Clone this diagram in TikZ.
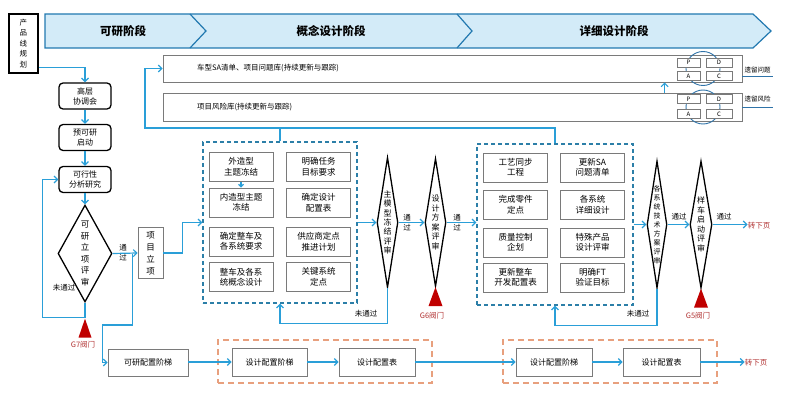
\documentclass[tikz,border=0pt]{standalone}
\usepackage{fontspec}
\setmainfont{Noto Sans CJK SC}
\usetikzlibrary{shapes.geometric,arrows.meta,calc}
\definecolor{flow}{HTML}{2A9FD8}
\definecolor{dashblue}{HTML}{2C7FA8}
\definecolor{bannerfill}{HTML}{D3EBF8}
\definecolor{bannerline}{HTML}{2279B0}
\definecolor{gatered}{HTML}{C00000}
\definecolor{gatetext}{HTML}{B03030}
\definecolor{orangedash}{HTML}{E8A07E}
\definecolor{boxgray}{HTML}{7A7A7A}
\definecolor{pdcablue}{HTML}{2F73A8}
\begin{document}
\begin{tikzpicture}[x=1pt,y=-1pt,
  flowline/.style={draw=flow,line width=1.2pt},
  arr/.style={flowline,-{Straight Barb[length=3.5pt,width=7pt]}},
  phasetext/.style={font=\fontsize{11.5}{13}\selectfont\bfseries},
  planbox/.style={draw=black,line width=1.5pt,fill=white,minimum width=29pt,minimum height=59pt,inner sep=0pt,align=center,font=\fontsize{7.5}{10.5}\selectfont},
  lbox/.style={draw=black,line width=1.3pt,rounded corners=4pt,fill=white,minimum width=52pt,minimum height=26pt,inner sep=0pt,align=center,font=\fontsize{8}{10}\selectfont},
  dmd/.style={diamond,draw=black,line width=1.3pt,fill=white,inner sep=0pt,align=center},
  ibox/.style={draw=boxgray,line width=0.8pt,fill=white,minimum width=64pt,minimum height=29pt,inner sep=0pt,align=center,font=\fontsize{8.5}{10.5}\selectfont},
  gbox/.style={draw=boxgray,line width=0.8pt,fill=white,inner sep=0pt,align=center,font=\fontsize{8}{10}\selectfont},
  bluedash/.style={draw=dashblue,line width=1.2pt,dash pattern=on 4pt off 3pt,inner sep=0pt},
  orangebox/.style={draw=orangedash,line width=1.5pt,dash pattern=on 6pt off 4pt,inner sep=0pt,minimum width=214pt,minimum height=43pt},
  bar/.style={draw=boxgray,line width=0.8pt,fill=white,minimum width=579pt,inner sep=0pt},
  bartext/.style={anchor=west,inner sep=0pt,font=\fontsize{7.5}{9}\selectfont},
  pbox/.style={draw=boxgray,line width=0.7pt,fill=white,minimum height=9pt,inner sep=0pt,font=\fontsize{6}{7}\selectfont},
  lbl/.style={inner sep=0pt,align=center,font=\fontsize{7.5}{10}\selectfont},
  gatelbl/.style={inner sep=0pt,text=gatetext,font=\fontsize{7.5}{9}\selectfont},
  nextlbl/.style={inner sep=0pt,text=gatetext,font=\fontsize{7.5}{9}\selectfont},
  smalllbl/.style={inner sep=0pt,font=\fontsize{6.5}{8}\selectfont}
]
\useasboundingbox (0,0) rectangle (793,409);

% phase banner
\path[fill=bannerfill,draw=bannerline,line width=1.2pt] (45,14) -- (753,14) -- (771,31) -- (753,48) -- (45,48) -- cycle;
\draw[bannerline,line width=1.2pt] (190,14) -- (206,31) -- (190,48);
\draw[bannerline,line width=1.2pt] (457,14) -- (472,31) -- (457,48);
\node[phasetext] (ph1) at (123,31) {可研阶段};
\node[phasetext] (ph2) at (331,31) {概念设计阶段};
\node[phasetext] (ph3) at (614,31) {详细设计阶段};

% product line planning
\node[planbox] (plan) at (23.5,43.5) {产\\品\\线\\规\\划};

% top bars
\node[bar,minimum height=27pt] (bar1) at (452.5,68.5) {};
\node[bar,minimum height=28pt] (bar2) at (452.5,107) {};
\node[bartext] (bt1) at (197,68.5) {车型SA清单、项目问题库(持续更新与跟踪)};
\node[bartext] (bt2) at (197,107) {项目风险库(持续更新与跟踪)};

% PDCA 1
\draw[pdcablue,line width=0.9pt] (703,68.5) circle (17pt);
\node[pbox,minimum width=23pt] (p1P) at (688.5,62.5) {P};
\node[pbox,minimum width=26pt] (p1D) at (719,62.5) {D};
\node[pbox,minimum width=23pt] (p1A) at (688.5,76) {A};
\node[pbox,minimum width=26pt] (p1C) at (719,76) {C};
% PDCA 2
\draw[pdcablue,line width=0.9pt] (703,107) circle (17pt);
\node[pbox,minimum width=23pt] (p2P) at (688.5,99) {P};
\node[pbox,minimum width=26pt] (p2D) at (719,99) {D};
\node[pbox,minimum width=23pt] (p2A) at (688.5,114) {A};
\node[pbox,minimum width=26pt] (p2C) at (719,114) {C};

\node[smalllbl] (lq) at (757.5,70) {遗留问题};
\node[smalllbl] (lr) at (757.5,99.5) {遗留风险};
\draw[pdcablue,line width=0.8pt] (bar1.east |- 0,76.5) -- (773,76.5);
\draw[pdcablue,line width=0.8pt] (bar2.east |- 0,107) -- (773,107);

\draw[arr] ($(bar2.north west)+(502,0)$) -- ($(bar1.south west)+(502,0)$);

% left column
\node[lbox] (gc) at (85,96) {高层\\协调会};
\node[lbox] (pre) at (85,137.5) {预可研\\启动};
\node[lbox] (fea) at (85,179.5) {可行性\\分析研究};
\node[dmd,aspect=0.56,minimum width=54pt,minimum height=97pt,font=\fontsize{8.5}{11.5}\selectfont] (d0) at (85,253.5) {可\\研\\立\\项\\评\\审};
\node[gbox,minimum width=25pt,minimum height=51pt,font=\fontsize{8.5}{12}\selectfont] (proj) at (150.5,253) {项\\目\\立\\项};

\draw[arr] ($(plan.south east)+(0,-6)$) -| (gc.north);
\draw[arr] (gc.south) -- (pre.north);
\draw[arr] (pre.south) -- (fea.north);
\draw[arr] (fea.south) -- (d0.north);
\draw[arr] (d0.south) -- ++(0,15) -| ($(fea.west)+(-16,0)$) -- (fea.west);
\fill[gatered] ($(d0.south)+(0,16)$) -- ++(-6.5,19) -- ++(13,0) -- cycle;
\node[gatelbl] (g7) at (83,345) {G7阀门};
\node[lbl] (np0) at (64,288) {未通过};
\draw[arr] (d0.east) -- (proj.west);
\node[lbl] (pass0) at (123,253) {通\\过};

% middle dashed box
\node[bluedash,minimum width=154pt,minimum height=161pt] (mbox) at (280,222.5) {};
\node[ibox] (m1) at (241,167) {外造型\\主题冻结};
\node[ibox] (m2) at (241,202.5) {内造型主题\\冻结};
\node[ibox] (m3) at (241,241.5) {确定整车及\\各系统要求};
\node[ibox] (m4) at (241,277) {整车及各系\\统概念设计};
\node[ibox] (m5) at (318.5,167) {明确任务\\目标要求};
\node[ibox] (m6) at (318.5,202.5) {确定设计\\配置表};
\node[ibox] (m7) at (318.5,241.5) {供应商定点\\推进计划};
\node[ibox] (m8) at (318.5,277) {关键系统\\定点};
\draw[flowline,-{Straight Barb[length=2.5pt,width=5pt]}] (m1.south) -- (m2.north);

\draw[arr] (proj.east) -- ++(19,0) |- (mbox.west);

% concept diamonds
\node[dmd,aspect=0.16,minimum width=21pt,minimum height=130pt,font=\fontsize{8}{9.3}\selectfont] (d1) at (387.5,222.5) {主\\模\\型\\冻\\结\\评\\审};
\node[dmd,aspect=0.16,minimum width=21pt,minimum height=128pt,font=\fontsize{8}{9.5}\selectfont] (d2) at (435.5,222.5) {设\\计\\方\\案\\评\\审};
\draw[arr] (mbox.east) -- (d1.west);
\draw[arr] (d1.east) -- (d2.west);
\node[lbl] (pass1) at (407,222.5) {通\\过};
\draw[arr] (d1.south) -- ++(0,35.5) -| (mbox.south);
\node[lbl] (np1) at (366,314) {未通过};
\fill[gatered] (d2.south) -- ++(-7,19) -- ++(14,0) -- cycle;
\node[gatelbl] (g6) at (432,316) {G6阀门};

% right dashed box
\node[bluedash,minimum width=156pt,minimum height=161pt] (rbox) at (555,224.5) {};
\node[ibox] (r1) at (515.5,167.5) {工艺同步\\工程};
\node[ibox] (r2) at (515.5,204.5) {完成零件\\定点};
\node[ibox] (r3) at (515.5,242.5) {质量控制\\企划};
\node[ibox] (r4) at (515.5,277.5) {更新整车\\开发配置表};
\node[ibox] (r5) at (592.5,167.5) {更新SA\\问题清单};
\node[ibox] (r6) at (592.5,204.5) {各系统\\详细设计};
\node[ibox] (r7) at (592.5,242.5) {特殊产品\\设计评审};
\node[ibox] (r8) at (592.5,277.5) {明确FT\\验证目标};

\draw[arr] (d2.east) -- (rbox.west |- d2.east);
\node[lbl] (pass2) at (457,222.5) {通\\过};

% top feedback to bars
\coordinate (c1) at (145,128);
\draw[arr] (rbox.north) |- (c1) |- (bar1.west);
\draw[flowline] (mbox.north) -- (mbox.north |- c1);

% detail diamonds
\node[dmd,aspect=0.16,minimum width=20pt,minimum height=127pt,font=\fontsize{7}{9}\selectfont] (d3) at (657,224.5) {各\\系\\统\\技\\术\\方\\案\\评\\审};
\node[dmd,aspect=0.17,minimum width=22pt,minimum height=127pt,font=\fontsize{8}{9.5}\selectfont] (d4) at (701,224.5) {样\\车\\启\\动\\评\\审};
\draw[arr] (rbox.east) -- (d3.west);
\draw[arr] (d3.east) -- (d4.west);
\node[lbl] (pass3) at (679,217) {通过};
\draw[arr] (d3.south) -- ++(0,37) -| (rbox.south);
\node[lbl] (np2) at (638,314) {未通过};
\fill[gatered] (d4.south) -- ++(-7,19) -- ++(14,0) -- cycle;
\node[gatelbl] (g5) at (698,316) {G5阀门};
\node[nextlbl] (nx1) at (759,225.5) {转下页};
\draw[arr] (d4.east) -- (nx1.west |- d4.east);
\node[lbl] (pass4) at (724,216.5) {通过};

% bottom configuration row
\node[orangebox] (ob1) at (325,361.5) {};
\node[orangebox] (ob2) at (610,361.5) {};
\node[gbox,minimum width=80pt,minimum height=27pt] (cfg0) at (148,362.5) {可研配置阶梯};
\node[gbox,minimum width=75pt,minimum height=28pt] (cfg1) at (269.5,362) {设计配置阶梯};
\node[gbox,minimum width=76pt,minimum height=28pt] (cfg2) at (377,362) {设计配置表};
\node[gbox,minimum width=76pt,minimum height=28pt] (cfg3) at (554,362) {设计配置阶梯};
\node[gbox,minimum width=77pt,minimum height=28pt] (cfg4) at (661.5,362) {设计配置表};
\node[nextlbl] (nx2) at (756,363) {转下页};

\draw[arr] ($(d0.east)+(20,0)$) -- ++(0,71.5) -| ($(cfg0.west)+(-5,0)$) -- (cfg0.west);
\draw[arr] (cfg0.east |- cfg1.west) -- (cfg1.west);
\draw[arr] (cfg1.east) -- (cfg2.west);
\draw[arr] (cfg2.east) -- (cfg3.west);
\draw[arr] (cfg3.east) -- (cfg4.west);
\draw[arr] (cfg4.east) -- (nx2.west |- cfg4.east);
\end{tikzpicture}
\end{document}
